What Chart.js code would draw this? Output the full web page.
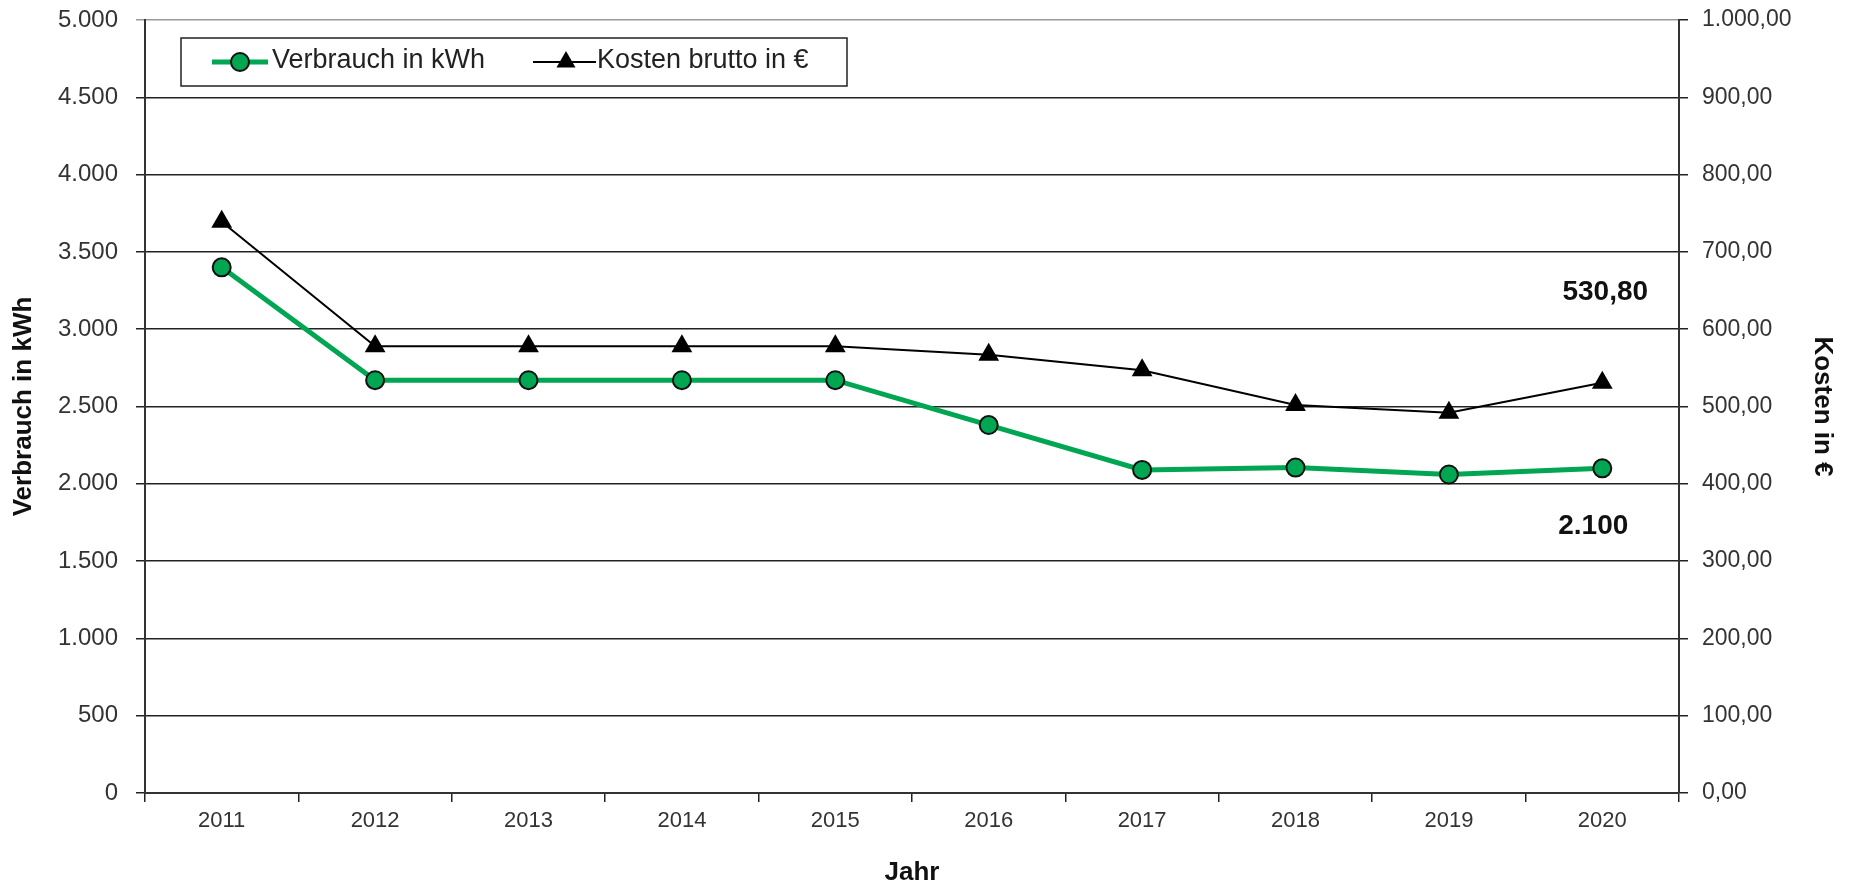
<!DOCTYPE html>
<html>
<head>
<meta charset="utf-8">
<script src="https://cdn.jsdelivr.net/npm/chart.js"></script>
<style>
  html, body { margin: 0; padding: 0; background: #fff; }
</style>
</head>
<body>
<canvas id="stromChart" width="1850" height="886"></canvas>
<script>
// Werte
const years = ['2011', '2012', '2013', '2014', '2015', '2016', '2017', '2018', '2019', '2020'];
const verbrauch = [3400, 2670, 2670, 2670, 2670, 2380, 2090, 2105, 2060, 2100];
const kosten = [739, 578, 578, 578, 578, 567, 547, 502, 492, 530.80];
const kwhTicks = [0, 500, 1000, 1500, 2000, 2500, 3000, 3500, 4000, 4500, 5000];
const euroTicks = [0, 100, 200, 300, 400, 500, 600, 700, 800, 900, 1000];

const FONT = '"Liberation Sans", Arial, Helvetica, sans-serif';
const GREEN = '#00A651';

// deutsche Zahlenformatierung
function deNum(v, dec) {
  const parts = Number(v).toFixed(dec).split('.');
  parts[0] = parts[0].replace(/\B(?=(\d{3})+(?!\d))/g, '.');
  return dec ? parts[0] + ',' + parts[1] : parts[0];
}

const legendBox = {
  id: 'legendBox',
  afterDraw(chart) {
    const { ctx, chartArea } = chart;
    const x0 = chartArea.left + 36, y0 = chartArea.top + 18, w = 666, h = 48;
    const cy = y0 + h / 2;
    ctx.save();
    ctx.fillStyle = '#fff';
    ctx.fillRect(x0, y0, w, h);
    ctx.strokeStyle = '#222';
    ctx.lineWidth = 1.5;
    ctx.strokeRect(x0, y0, w, h);

    // Verbrauch
    ctx.strokeStyle = GREEN;
    ctx.lineWidth = 5;
    ctx.beginPath(); ctx.moveTo(x0 + 31, cy); ctx.lineTo(x0 + 87, cy); ctx.stroke();
    ctx.beginPath(); ctx.arc(x0 + 59, cy, 9, 0, Math.PI * 2);
    ctx.fillStyle = GREEN; ctx.fill();
    ctx.lineWidth = 2; ctx.strokeStyle = '#111'; ctx.stroke();

    ctx.font = '27px ' + FONT;
    ctx.fillStyle = '#222';
    ctx.textBaseline = 'middle';
    ctx.fillText('Verbrauch in kWh', x0 + 91, cy - 1);

    // Kosten
    ctx.strokeStyle = '#000';
    ctx.lineWidth = 2;
    ctx.beginPath(); ctx.moveTo(x0 + 352, cy); ctx.lineTo(x0 + 415, cy); ctx.stroke();
    const tx = x0 + 385, r = 11;
    ctx.beginPath();
    ctx.moveTo(tx, cy - r);
    ctx.lineTo(tx + r * 0.866, cy + r * 0.5);
    ctx.lineTo(tx - r * 0.866, cy + r * 0.5);
    ctx.closePath();
    ctx.fillStyle = '#000'; ctx.fill();

    ctx.fillStyle = '#222';
    ctx.fillText('Kosten brutto in €', x0 + 416, cy - 1);
    ctx.restore();
  }
};

const lastLabels = {
  id: 'lastLabels',
  afterDatasetsDraw(chart) {
    const { ctx } = chart;
    const last = years.length - 1;
    const p0 = chart.getDatasetMeta(0).data[last];
    const p1 = chart.getDatasetMeta(1).data[last];
    ctx.save();
    ctx.font = 'bold 28px ' + FONT;
    ctx.fillStyle = '#111';
    ctx.textAlign = 'center';
    ctx.textBaseline = 'middle';
    ctx.fillText(deNum(verbrauch[last], 0), p0.x - 9, p0.y + 58);
    ctx.fillText(deNum(kosten[last], 2), p1.x + 3, p1.y - 90);
    ctx.restore();
  }
};

const ctx = document.getElementById('stromChart').getContext('2d');
new Chart(ctx, {
  type: 'line',
  data: {
    labels: years,
    datasets: [{
      label: 'Verbrauch in kWh',
      data: verbrauch,
      yAxisID: 'y',
      borderColor: GREEN,
      backgroundColor: GREEN,
      borderWidth: 5,
      tension: 0,
      pointRadius: 9,
      pointBackgroundColor: GREEN,
      pointBorderColor: '#111',
      pointBorderWidth: 2
    }, {
      label: 'Kosten brutto in €',
      data: kosten,
      yAxisID: 'y1',
      borderColor: '#000',
      backgroundColor: '#000',
      borderWidth: 2,
      tension: 0,
      pointStyle: 'triangle',
      pointRadius: 12,
      pointBackgroundColor: '#000',
      pointBorderColor: '#000',
      pointBorderWidth: 0
    }]
  },
  options: {
    responsive: false,
    animation: false,
    layout: { padding: { top: 20, left: 0, right: 0, bottom: 0 } },
    plugins: {
      legend: { display: false },
      tooltip: { enabled: false }
    },
    scales: {
      x: {
        offset: true,
        grid: { offset: true, drawOnChartArea: false, tickLength: 9, color: '#222', lineWidth: 1.5 },
        border: { color: '#333', width: 2 },
        ticks: { font: { size: 22, family: FONT }, color: '#333', padding: 6, maxRotation: 0 },
        title: { display: true, text: 'Jahr', color: '#111',
                 font: { size: 26, weight: 'bold', family: FONT, lineHeight: 1 },
                 padding: { top: 0, bottom: 0 } },
        afterFit: s => { s.height = 93; }
      },
      y: {
        position: 'left',
        min: 0, max: 5000,
        afterBuildTicks: s => { s.ticks = kwhTicks.map(v => ({ value: v })); },
        grid: {
          color: c => (c.tick && c.tick.value === 5000) ? '#999' : '#222',
          lineWidth: 1.5,
          tickLength: 9
        },
        border: { color: '#333', width: 2 },
        ticks: { font: { size: 24, family: FONT }, color: '#333', padding: 18,
                 callback: v => deNum(v, 0) },
        title: { display: true, text: 'Verbrauch in kWh', color: '#111',
                 font: { size: 26, weight: 'bold', family: FONT },
                 padding: { top: 8, bottom: 0 } },
        afterFit: s => { s.width = 145; s.paddingTop = 0; s.paddingBottom = 0; }
      },
      y1: {
        position: 'right',
        min: 0, max: 1000,
        afterBuildTicks: s => { s.ticks = euroTicks.map(v => ({ value: v })); },
        grid: { drawOnChartArea: false, color: '#222', lineWidth: 1.5, tickLength: 9 },
        border: { color: '#333', width: 2 },
        ticks: { font: { size: 23, family: FONT }, color: '#333', padding: 14,
                 callback: v => deNum(v, 2) },
        title: { display: true, text: 'Kosten in €', color: '#111',
                 font: { size: 26, weight: 'bold', family: FONT },
                 padding: { top: 12, bottom: 0 } },
        afterFit: s => { s.width = 171; s.paddingTop = 0; s.paddingBottom = 0; }
      }
    }
  },
  plugins: [lastLabels, legendBox]
});
</script>
</body>
</html>
